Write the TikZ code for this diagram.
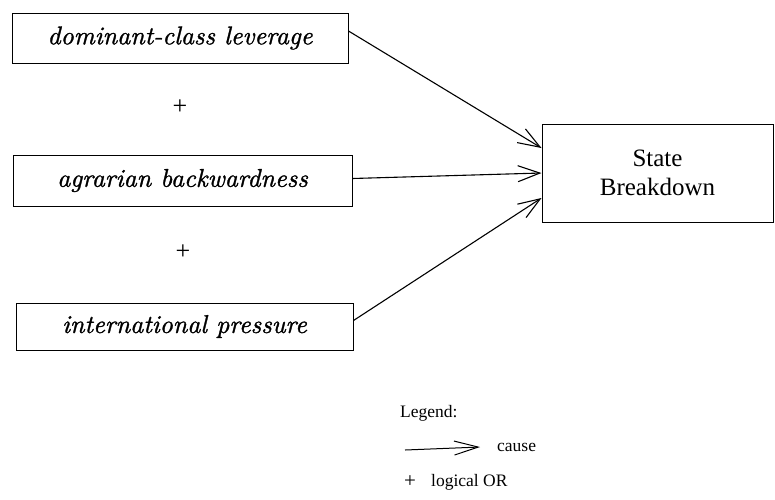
\documentclass[tikz,border=0pt]{standalone}
\usepackage{fontspec}
\setmainfont{Liberation Serif}
\newfontfamily\factorfont{lmroman10-italic.otf}[FakeBold=1.2]
\usetikzlibrary{arrows.meta}

\tikzset{
  factor/.style={draw, line width=1pt, inner sep=0pt, minimum height=50pt,
    font=\fontsize{25.7}{28}\factorfont},
  outcome/.style={draw, line width=1pt, inner sep=0pt, align=center,
    font=\fontsize{25}{29}\selectfont},
  plus/.style={inner sep=0pt, font=\fontsize{26}{28}\selectfont},
  legendtext/.style={inner sep=0pt, anchor=west, font=\fontsize{17.5}{20}\selectfont},
  causes/.style={line width=1.1pt, -{Straight Barb[length=22pt,width=16pt,line width=1.1pt]}},
}

\begin{document}
\begin{tikzpicture}[x=1pt, y=-1pt]
  \useasboundingbox (0,0) rectangle (775,499);

  % factor boxes
  \node[factor, minimum width=336pt] (lev) at (180,38) {dominant-class leverage};
  \node[factor, minimum width=339pt, minimum height=51pt] (agr) at (182.5,180.5) {agrarian backwardness};
  \node[factor, minimum width=337pt, minimum height=47pt] (int) at (184.5,326.5) {international pressure};

  % logical OR between factors
  \node[plus] (or1) at (180,107) {+};
  \node[plus] (or2) at (183,252) {+};

  % outcome box
  \node[outcome, minimum width=231pt, minimum height=98pt] (sb) at (657.5,173) {State\\Breakdown};

  % causal arrows
  \draw[causes] ([yshift=7pt]lev.east) -- ([yshift=25pt]sb.west);
  \draw[causes] ([yshift=2pt]agr.east) -- (sb.west);
  \draw[causes] ([yshift=6pt]int.east) -- ([yshift=-25pt]sb.west);

  % legend
  \node[legendtext] (leg) at (400,413) {Legend:};
  \coordinate (la) at (405,450);
  \node[legendtext] (cause) at (497,447) {cause};
  \draw[line width=1pt, -{Straight Barb[length=24pt,width=14pt,line width=1pt]}] (la) -- ([xshift=-17pt]cause.west);
  \node[legendtext, font=\fontsize{21}{22}\selectfont] (lplus) at (404,482) {+};
  \node[legendtext] (lor) at (431,482) {logical OR};
\end{tikzpicture}
\end{document}
